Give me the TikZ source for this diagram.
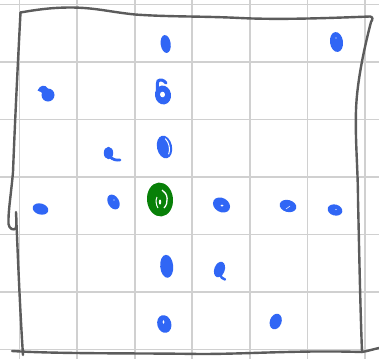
\documentclass[tikz,border=0pt]{standalone}
\begin{document}
\begin{tikzpicture}[x=1pt,y=-1pt,
  gridline/.style={draw=gridgray,line width=1.8pt},
  border/.style={draw=boxgray,line width=2.4pt,line cap=round,line join=round},
  bluedot/.style={fill=dotblue},
  hilite/.style={fill=white}]
\definecolor{gridgray}{RGB}{208,208,208}
\definecolor{boxgray}{RGB}{92,92,92}
\definecolor{dotblue}{RGB}{48,102,245}
\definecolor{dotgreen}{RGB}{8,128,8}
\useasboundingbox (0,0) rectangle (379,359);
\fill[white] (0,0) rectangle (379,359);
% grid
\foreach \gx in {19.5,77.1,134.7,192.3,249.9,307.5,365.1}
  \draw[gridline] (\gx,0) -- (\gx,359);
\foreach \gy in {4.5,62,119.5,177,234.5,292,349.5}
  \draw[gridline] (0,\gy) -- (379,\gy);
% hand-drawn border
\draw[border] (20.5,12.5) .. controls (40,9) and (55,7.5) .. (70,7.5)
  .. controls (95,7.5) and (110,12) .. (135,14.5)
  .. controls (170,17) and (200,16) .. (240,18)
  .. controls (280,20) and (330,18) .. (370,16.5)
  .. controls (373,17) and (373,19) .. (371,22)
  .. controls (365,45) and (357,80) .. (356,110)
  .. controls (355,140) and (358,170) .. (358,200)
  .. controls (359,240) and (360,300) .. (362,352)
  .. controls (368,351) and (374,349) .. (379,348);
\draw[border] (20.5,12.5) .. controls (18,60) and (15,120) .. (13,172)
  .. controls (11,195) and (8,212) .. (8.5,224)
  .. controls (9,229) and (14,231) .. (16,228)
  .. controls (17,222) and (16,215) .. (16,212)
  .. controls (18,260) and (20,310) .. (23,355);
\draw[border] (12,351) .. controls (60,354) and (140,353) .. (200,354)
  .. controls (250,354) and (300,350) .. (362,352);
% blue dots
\fill[dotblue,rotate around={8:(165.7,44)}] (165.7,44) ellipse (5 and 9);
% teardrop
\fill[dotblue] (48,95) circle (6.5);
\fill[dotblue] (37.5,90.5) .. controls (40,85) and (45,84) .. (48,88.5) -- (45,96) .. controls (42,92) and (39,91) .. (37.5,90.5) -- cycle;
% b
\fill[dotblue,rotate around={10:(163,95)}] (163,95) ellipse (8 and 9.5);
\draw[dotblue,line width=3pt,line cap=round] (158,93) .. controls (157,88) and (157,84) .. (158,81) .. controls (160,79) and (164,80) .. (166,83);
\fill[white,rotate around={10:(162.5,94.5)}] (162.5,94.5) ellipse (2.5 and 2.8);
% small blob with tail
\fill[dotblue] (108.5,153) ellipse (4.7 and 6.2);
\draw[dotblue,line width=2.8pt,line cap=round] (110,157) .. controls (113,159.5) and (116,160.5) .. (120,160);
% ring 0
\fill[dotblue,rotate around={12:(164.5,147)}] (164.5,147) ellipse (7.5 and 11.5);
\draw[white,line width=1pt,rotate around={12:(164.5,147)}] (167,139) .. controls (170,143) and (170,151) .. (167,155);
% top right
\fill[dotblue,rotate around={8:(336.5,42)}] (336.5,42) ellipse (6.5 and 10);
\fill[white] (336,38) circle (0.6);
% row through centre
\fill[dotblue,rotate around={-15:(40.5,209)}] (40.5,209) ellipse (8 and 5.5);
\fill[dotblue,rotate around={30:(113.5,202)}] (113.5,202) ellipse (5.5 and 8);
\fill[white] (114,200) circle (0.6);
\fill[dotblue,rotate around={-30:(221.5,205)}] (221.5,205) ellipse (9 and 7);
\fill[white] (222,205.5) ellipse (1.5 and 1);
\fill[dotblue,rotate around={-15:(288,206)}] (288,206) ellipse (8.5 and 6);
\draw[white,line width=0.5pt] (286,209) -- (290,206);
\fill[dotblue,rotate around={-15:(335,210)}] (335,210) ellipse (7.5 and 5.5);
\fill[white] (336,209.5) circle (0.6);
% green centre
\fill[dotgreen,rotate around={5:(160,199.5)}] (160,199.5) ellipse (13 and 17);
\draw[white,line width=1.3pt] (162,190) .. controls (168,193) and (169,203) .. (164,208);
\draw[white,line width=1pt] (157,197) .. controls (155.5,200) and (156,205) .. (158,208);
\fill[white] (160,202) ellipse (1.2 and 2.5);
% lower dots
\fill[dotblue,rotate around={5:(166.7,266.3)}] (166.7,266.3) ellipse (6.5 and 11.5);
\fill[dotblue,rotate around={15:(164.3,324)}] (164.3,324) ellipse (7 and 9);
\fill[white] (163.5,322) ellipse (1 and 1.8);
\fill[dotblue,rotate around={-20:(219.5,269.5)}] (219.5,269.5) ellipse (5.2 and 8);
\draw[dotblue,line width=2.5pt,line cap=round] (220,274) .. controls (221,277) and (222,279) .. (225,279.5);
\fill[dotblue,rotate around={-20:(275.7,321.5)}] (275.7,321.5) ellipse (5.8 and 8);
\end{tikzpicture}
\end{document}
